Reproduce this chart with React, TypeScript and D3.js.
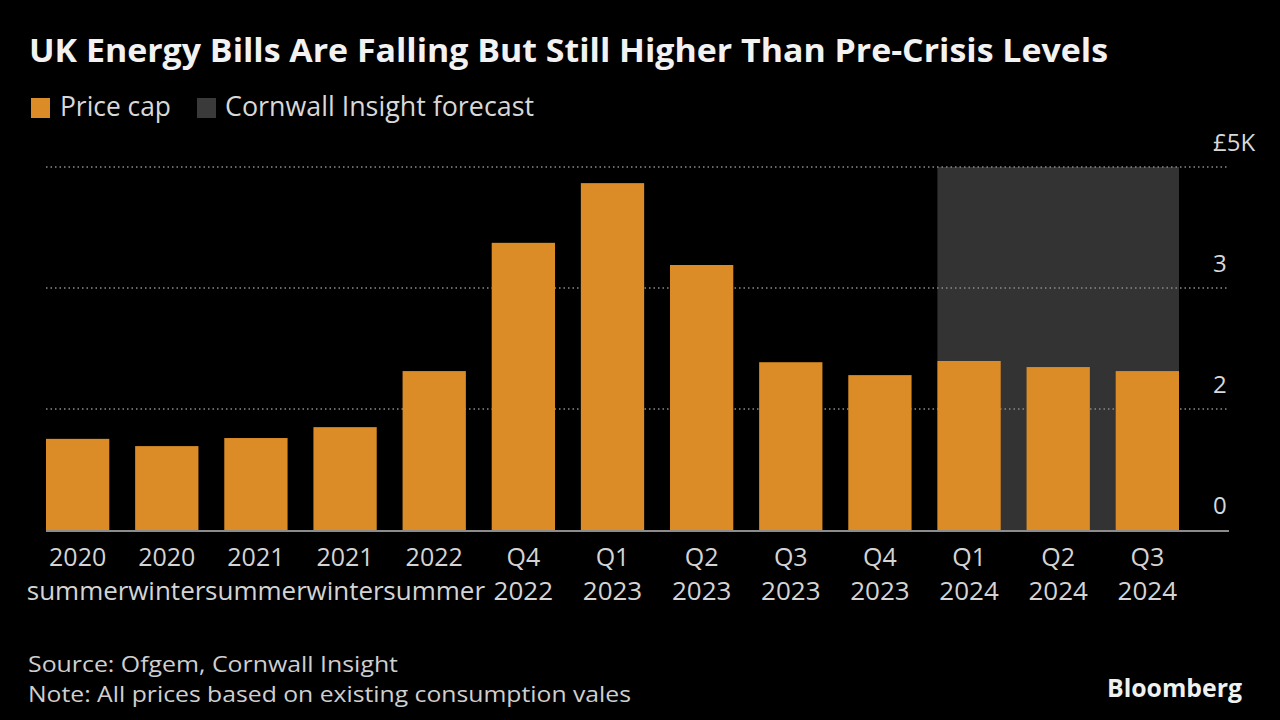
import React from "react";
import * as d3 from "d3";

const categories = ["2020 summer", "2020 winter", "2021 summer", "2021 winter", "2022 summer", "Q4 2022", "Q1 2023", "Q2 2023", "Q3 2023", "Q4 2023", "Q1 2024", "Q2 2024", "Q3 2024"];
const labelLine1 = ["2020", "2020", "2021", "2021", "2022", "Q4", "Q1", "Q2", "Q3", "Q4", "Q1", "Q2", "Q3"];
const labelLine2 = ["summer", "winter", "summer", "winter", "summer", "2022", "2023", "2023", "2023", "2023", "2024", "2024", "2024"];
const priceCap = [1130, 1040, 1140, 1275, 1970, 3560, 4300, 3285, 2080, 1920, 2095, 2020, 1970];
const forecastCategories = ["Q1 2024", "Q2 2024", "Q3 2024"];
const yTickValues = [0, 1500, 3000, 4500];
const yTickLabels = ["0", "2", "3", "£5K"];

const W = 1280;
const H = 720;
const FONT = "'Open Sans', 'Noto Sans', sans-serif";
const ORANGE = "#dc8c27";
const SHADE = "#333333";

export default function App() {
  const x = d3.scaleBand<string>().domain(categories).range([46, 1179]).paddingInner(0.29).paddingOuter(0);
  const y = d3.scaleLinear().domain([0, 4500]).range([530, 167]);
  const gridX0 = 46;
  const gridX1 = 1229;
  const shadeX0 = x(forecastCategories[0]) as number;
  const shadeX1 = (x(forecastCategories[forecastCategories.length - 1]) as number) + x.bandwidth();

  return (
    <svg width={W} height={H} style={{ position: "fixed", left: 0, top: 0, background: "#000" }} fontFamily={FONT}>
      <rect x={0} y={0} width={W} height={H} fill="#000" />
      <text x={29} y={62} fill="#f2f2f2" fontSize={33} fontWeight={700} textLength={1079} lengthAdjust="spacingAndGlyphs">
        UK Energy Bills Are Falling But Still Higher Than Pre-Crisis Levels
      </text>
      {/* legend */}
      <rect x={31} y={98} width={19} height={20} fill={ORANGE} />
      <text x={60} y={116} fill="#d8d8d8" fontSize={27} textLength={111} lengthAdjust="spacingAndGlyphs">Price cap</text>
      <rect x={197} y={98} width={19} height={20} fill="#3a3a3a" />
      <text x={225} y={116} fill="#d8d8d8" fontSize={27} textLength={309} lengthAdjust="spacingAndGlyphs">Cornwall Insight forecast</text>

      {/* forecast shade */}
      <rect x={shadeX0} y={y(4500)} width={shadeX1 - shadeX0} height={y(0) - y(4500)} fill={SHADE} />

      {/* gridlines */}
      {yTickValues.filter((v) => v > 0).map((v) => (
        <line key={v} x1={gridX0} x2={gridX1} y1={y(v)} y2={y(v)} stroke="#8a8a8a" strokeWidth={1.5} strokeDasharray="1.5 3" />
      ))}

      {/* bars */}
      {categories.map((c, i) => (
        <rect key={c} x={x(c)} y={y(priceCap[i])} width={x.bandwidth()} height={y(0) - y(priceCap[i])} fill={ORANGE} />
      ))}

      {/* baseline */}
      <line x1={gridX0} x2={gridX1} y1={y(0) + 1} y2={y(0) + 1} stroke="#8c8c8c" strokeWidth={2} />

      {/* y labels */}
      {yTickValues.map((v, i) => (
        <text key={v} x={1213} y={y(v) - 16} fill="#d8d8d8" fontSize={24}>{yTickLabels[i]}</text>
      ))}

      {/* x labels */}
      {categories.map((c, i) => {
        const cx = (x(c) as number) + x.bandwidth() / 2;
        return (
          <g key={c} fill="#d4d4d4" fontSize={25} textAnchor="middle">
            <text x={cx} y={566}>{labelLine1[i]}</text>
            <text x={cx} y={600} fontSize={26}>{labelLine2[i]}</text>
          </g>
        );
      })}

      {/* footer */}
      <text x={28} y={672} fill="#cfcfcf" fontSize={22} textLength={370} lengthAdjust="spacingAndGlyphs">Source: Ofgem, Cornwall Insight</text>
      <text x={28} y={702} fill="#cfcfcf" fontSize={22} textLength={603} lengthAdjust="spacingAndGlyphs">Note: All prices based on existing consumption vales</text>
      <text x={1107} y={697} fill="#f0f0f0" fontSize={25} fontWeight={700} textLength={135} lengthAdjust="spacingAndGlyphs">Bloomberg</text>
    </svg>
  );
}
